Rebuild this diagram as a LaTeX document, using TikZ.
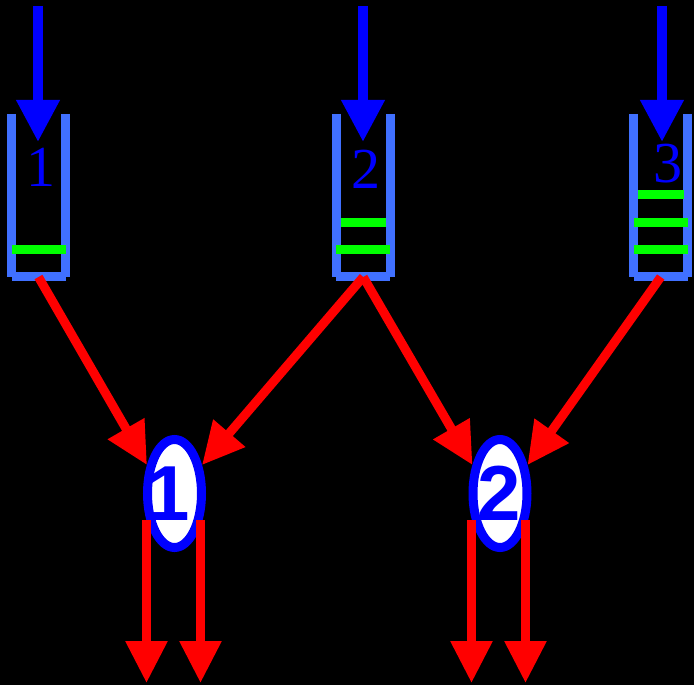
\documentclass[tikz,border=0pt]{standalone}
\usepackage{fontspec}
\setmainfont{Liberation Serif}
\newfontfamily\digitsans{Liberation Sans}
\usepackage{tikz}
\usetikzlibrary{positioning,shapes.geometric,arrows.meta}
\definecolor{wallblue}{RGB}{64,112,255}
\tikzset{
    wall/.style={
        draw=wallblue,
        line width=9pt
    },
    jobbar/.style={
        draw=green,
        line width=9pt
    },
    feed/.style={
        draw=blue,
        line width=10pt,
        -{Triangle[length=42pt,width=41pt]}
    },
    flow/.style={
        draw=red,
        line width=9pt,
        -{Triangle[length=42pt,width=40pt]}
    }
}
\tikzstyle{qlabel} = [text=blue, inner sep=0pt, anchor=base, font=\fontsize{58}{58}\selectfont]
\tikzstyle{server} = [ellipse, draw=blue, fill=white, line width=9pt, minimum width=54pt, minimum height=108pt, inner sep=0pt]
\tikzstyle{slabel} = [text=blue, inner sep=0pt, anchor=base, font=\digitsans\bfseries\fontsize{78}{78}\selectfont]

\begin{document}
\begin{tikzpicture}[x=1pt,y=-1pt]
          \fill[black] (0,0) rectangle (694,685);
          % queues
          \foreach \cx/\name in {38.5/q1, 363.25/q2, 660.75/q3} {
              \draw[wall] (\cx-27,114) -- (\cx-27,277);
              \draw[wall] (\cx+27,114) -- (\cx+27,277);
              \draw[wall] (\cx-27,276.5) -- (\cx+27,276.5);
              \coordinate (\name) at (\cx,277);
          }
          \draw[jobbar] (11.5,249.5) -- (65.5,249.5);
          \draw[jobbar] (336.25,249.5) -- (390.25,249.5);
          \draw[jobbar] (341,222.5) -- (386,222.5);
          \draw[jobbar] (633.75,249.5) -- (687.75,249.5);
          \draw[jobbar] (633.75,222.5) -- (687.75,222.5);
          \draw[jobbar] (638,195) -- (684,195);
          % arrivals
          \foreach \ax/\name in {38/a1, 363/a2, 662/a3} {
              \coordinate (\name top) at (\ax,6);
              \coordinate (\name end) at (\ax,142);
              \draw[feed] (\name top) -- (\name end);
          }
          \node (n1) [qlabel] at (40.5,186) {1};
          \node (n2) [qlabel] at (366,189) {2};
          \node (n3) [qlabel] at (668,183) {3};
          % servers
          \node (s1) [server] at (174.5,493.5) {};
          \node (s2) [server] at (500,493.5) {};
          \node (l1) [slabel] at (168,520) {1};
          \node (l2) [slabel] at (499.5,520) {2};
          \draw[flow] (q1) -- (s1.134);
          \draw[flow] (q2) -- (s1.46);
          \draw[flow] (q2) -- (s2.134);
          \draw[flow] (q3) -- (s2.46);
          % departures
          \foreach \s/\dx/\name in {s1/-28/o1, s1/26/o2, s2/-28.5/o3, s2/25.5/o4} {
              \coordinate (\name) at ([shift={(\dx,189.5)}]\s.center);
              \draw[flow] ([shift={(\dx,26.5)}]\s.center) -- (\name);
          }
        \end{tikzpicture}
\end{document}
